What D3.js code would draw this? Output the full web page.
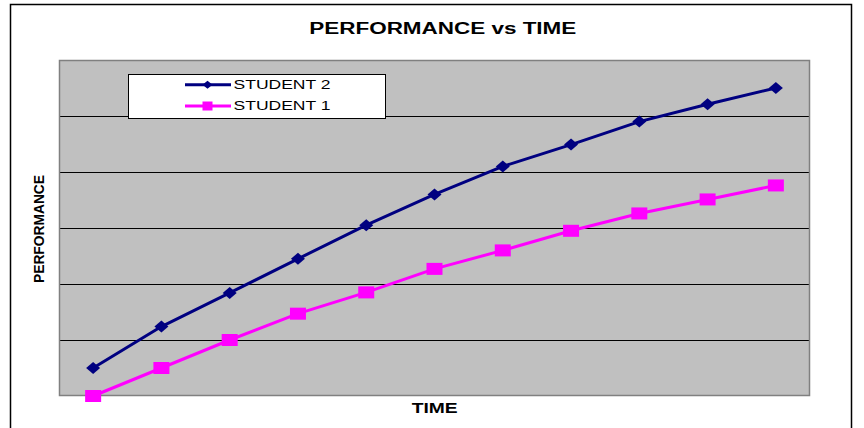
<!DOCTYPE html>
<html>
<head>
<meta charset="utf-8">
<script src="https://cdn.jsdelivr.net/npm/d3@7"></script>
<style>
  html, body { margin: 0; padding: 0; background: #fff; }
  svg { display: block; }
  text { font-family: "Liberation Sans", Arial, sans-serif; }
</style>
</head>
<body>
<svg id="chart" width="864" height="428"></svg>
<script>
// Time periods along the category axis
const periods = [1, 2, 3, 4, 5, 6, 7, 8, 9, 10, 11];
// Performance scores per period
const student2 = [5, 12.4, 18.4, 24.5, 30.5, 36, 41, 44.9, 49, 52.1, 55];
const student1 = [0, 5, 10, 14.7, 18.5, 22.7, 26, 29.5, 32.6, 35.1, 37.6];
// Value-axis grid (no labels are printed)
const gridTicks = [0, 10, 20, 30, 40, 50, 60];
const seriesNames = ["STUDENT 2", "STUDENT 1"];

const svg = d3.select("#chart");

const plot = { left: 59, right: 810, top: 60, bottom: 396 };

const x = d3.scaleBand()
  .domain(periods)
  .range([plot.left, plot.right])
  .paddingInner(0)
  .paddingOuter(0);

const y = d3.scaleLinear()
  .domain([0, 60])
  .range([plot.bottom, plot.top]);

// Outer chart frame
svg.append("path")
  .attr("d", "M10.5,428 L10.5,4.5 L851.5,4.5 L851.5,428")
  .attr("fill", "none")
  .attr("stroke", "#000")
  .attr("stroke-width", 1.5);

// Plot background
svg.append("rect")
  .attr("x", plot.left)
  .attr("y", plot.top)
  .attr("width", plot.right - plot.left)
  .attr("height", plot.bottom - plot.top)
  .attr("fill", "#c0c0c0");

// Horizontal gridlines
svg.append("g")
  .selectAll("line")
  .data(gridTicks.slice(1, -1))
  .join("line")
  .attr("x1", plot.left)
  .attr("x2", plot.right)
  .attr("y1", d => Math.round(y(d)) + 0.5)
  .attr("y2", d => Math.round(y(d)) + 0.5)
  .attr("stroke", "#000")
  .attr("stroke-width", 1);

// Plot border
svg.append("rect")
  .attr("x", plot.left + 0.5)
  .attr("y", plot.top + 0.5)
  .attr("width", plot.right - plot.left - 1)
  .attr("height", plot.bottom - plot.top - 1)
  .attr("fill", "none")
  .attr("stroke", "#808080")
  .attr("stroke-width", 1.5);

const cx = d => x(d) + x.bandwidth() / 2;

const line = d3.line()
  .x((d, i) => cx(periods[i]))
  .y(d => y(d));

const diamond = (w, h) => `M0,${-h / 2} L${w / 2},0 L0,${h / 2} L${-w / 2},0 Z`;

const series = [
  { name: seriesNames[0], values: student2, color: "#000080", marker: "diamond" },
  { name: seriesNames[1], values: student1, color: "#ff00ff", marker: "square" }
];

// Draw the student 1 series first so student 2 sits on top
series.slice().reverse().forEach(s => {
  const g = svg.append("g");
  g.append("path")
    .datum(s.values)
    .attr("d", line)
    .attr("fill", "none")
    .attr("stroke", s.color)
    .attr("stroke-width", 3)
    .attr("stroke-linejoin", "round");

  const pts = g.selectAll("g.pt")
    .data(s.values)
    .join("g")
    .attr("class", "pt")
    .attr("transform", (d, i) => `translate(${cx(periods[i])},${y(d)})`);

  if (s.marker === "diamond") {
    pts.append("path").attr("d", diamond(14, 12)).attr("fill", s.color);
  } else {
    pts.append("rect")
      .attr("x", -8).attr("y", -6)
      .attr("width", 16).attr("height", 12)
      .attr("fill", s.color);
  }
});

// Legend
const legend = svg.append("g");
legend.append("rect")
  .attr("x", 128.5).attr("y", 74.5)
  .attr("width", 257).attr("height", 44)
  .attr("fill", "#fff")
  .attr("stroke", "#000")
  .attr("stroke-width", 1);

const legendRows = [84.7, 106];
series.forEach((s, i) => {
  const ly = legendRows[i];
  legend.append("line")
    .attr("x1", 185).attr("x2", 231)
    .attr("y1", ly).attr("y2", ly)
    .attr("stroke", s.color)
    .attr("stroke-width", 3);
  if (s.marker === "diamond") {
    legend.append("path")
      .attr("transform", `translate(207.5,${ly})`)
      .attr("d", diamond(10, 8))
      .attr("fill", s.color);
  } else {
    legend.append("rect")
      .attr("x", 202.5).attr("y", ly - 4.5)
      .attr("width", 10).attr("height", 9)
      .attr("fill", s.color);
  }
  legend.append("text")
    .attr("x", 233.5)
    .attr("y", ly + 4.3)
    .attr("font-size", 12)
    .attr("fill", "#000")
    .attr("textLength", 97)
    .attr("lengthAdjust", "spacingAndGlyphs")
    .text(s.name);
});

// Title
svg.append("text")
  .attr("x", 309.3)
  .attr("y", 34)
  .attr("font-size", 16)
  .attr("font-weight", "bold")
  .attr("textLength", 267)
  .attr("lengthAdjust", "spacingAndGlyphs")
  .text("PERFORMANCE vs TIME");

// Axis titles
svg.append("text")
  .attr("x", 411.7)
  .attr("y", 413.3)
  .attr("font-size", 14)
  .attr("font-weight", "bold")
  .attr("textLength", 46)
  .attr("lengthAdjust", "spacingAndGlyphs")
  .text("TIME");

svg.append("text")
  .attr("transform", "translate(44,283) rotate(-90)")
  .attr("font-size", 14)
  .attr("font-weight", "bold")
  .attr("textLength", 108)
  .attr("lengthAdjust", "spacingAndGlyphs")
  .text("PERFORMANCE");
</script>
</body>
</html>
